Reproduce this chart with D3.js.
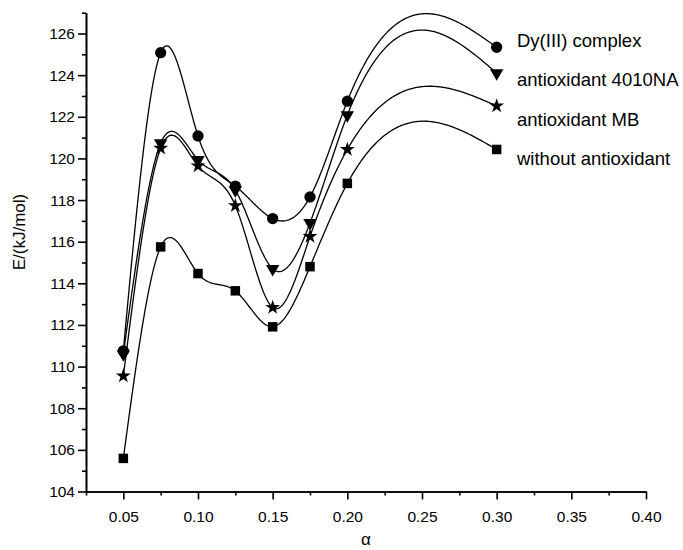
<!DOCTYPE html>
<html>
<head>
<meta charset="utf-8">
<script src="https://cdn.jsdelivr.net/npm/d3@7"></script>
<style>
  html, body { margin: 0; padding: 0; background: #fff; }
  svg { display: block; font-family: "Liberation Sans", Arial, sans-serif; }
</style>
</head>
<body>
<svg id="chart" width="683" height="550"></svg>
<script>
// ---- data ----
const alpha = [0.05, 0.075, 0.10, 0.125, 0.15, 0.175, 0.20, 0.30];
const dyComplex     = [110.76, 125.08, 121.08, 118.67, 117.11, 118.15, 122.75, 125.34];
const antiox4010NA  = [110.60, 120.73, 119.93, 118.48, 114.70, 116.90, 122.08, 124.10];
const antioxMB      = [109.55, 120.49, 119.64, 117.73, 112.84, 116.25, 120.43, 122.52];
const withoutAntiox = [105.59, 115.75, 114.47, 113.64, 111.91, 114.80, 118.80, 120.43];
const seriesNames = ["Dy(III) complex", "antioxidant 4010NA", "antioxidant MB", "without antioxidant"];
const xTickValues = [0.05, 0.10, 0.15, 0.20, 0.25, 0.30, 0.35, 0.40];
const xMinorTicks = [0.025, 0.075, 0.125, 0.175, 0.225, 0.275, 0.325, 0.375];
const yTickValues = [104, 106, 108, 110, 112, 114, 116, 118, 120, 122, 124, 126];
const yMinorTicks = [105, 107, 109, 111, 113, 115, 117, 119, 121, 123, 125, 127];

const seriesValues = [dyComplex, antiox4010NA, antioxMB, withoutAntiox];
const symbols = [d3.symbolCircle, d3.symbolTriangle, d3.symbolStar, d3.symbolSquare];
const symSizes = [100, 78, 68, 90];
const symRot = [0, 180, 0, 0];

const svg = d3.select("#chart");
const x = d3.scaleLinear().domain([0.025, 0.40]).range([86, 646]);
const y = d3.scaleLinear().domain([104, 127]).range([491.5, 12.7]);

// natural cubic spline y(x)
function naturalSpline(xs, ys) {
  const n = xs.length;
  const h = [];
  for (let i = 0; i < n - 1; i++) h.push(xs[i + 1] - xs[i]);
  const a = new Array(n).fill(0), b = new Array(n).fill(1), c = new Array(n).fill(0), d = new Array(n).fill(0);
  for (let i = 1; i < n - 1; i++) {
    a[i] = h[i - 1];
    b[i] = 2 * (h[i - 1] + h[i]);
    c[i] = h[i];
    d[i] = 6 * ((ys[i + 1] - ys[i]) / h[i] - (ys[i] - ys[i - 1]) / h[i - 1]);
  }
  const cp = new Array(n).fill(0), dp = new Array(n).fill(0);
  cp[0] = c[0] / b[0]; dp[0] = d[0] / b[0];
  for (let i = 1; i < n; i++) {
    const m = b[i] - a[i] * cp[i - 1];
    cp[i] = c[i] / m;
    dp[i] = (d[i] - a[i] * dp[i - 1]) / m;
  }
  const M = new Array(n).fill(0);
  M[n - 1] = dp[n - 1];
  for (let i = n - 2; i >= 0; i--) M[i] = dp[i] - cp[i] * M[i + 1];
  return function (t) {
    let i = 0;
    while (i < n - 2 && t > xs[i + 1]) i++;
    const hi = h[i], A = xs[i + 1] - t, B = t - xs[i];
    return M[i] * A * A * A / (6 * hi) + M[i + 1] * B * B * B / (6 * hi)
      + (ys[i] / hi - M[i] * hi / 6) * A + (ys[i + 1] / hi - M[i + 1] * hi / 6) * B;
  };
}

// axes
const axisG = svg.append("g");
axisG.append("g").attr("transform", `translate(0,${y(104)})`)
  .call(d3.axisBottom(x).tickValues(xTickValues).tickSize(8).tickSizeOuter(0).tickPadding(11).tickFormat(d3.format(".2f")));
axisG.append("g").attr("transform", `translate(0,${y(104)})`)
  .call(d3.axisBottom(x).tickValues(xMinorTicks).tickSize(4).tickSizeOuter(0).tickFormat(""));
axisG.append("g").attr("transform", `translate(${x(0.025)},0)`)
  .call(d3.axisLeft(y).tickValues(yTickValues).tickSize(8).tickSizeOuter(0).tickPadding(3).tickFormat(d3.format("d")));
axisG.append("g").attr("transform", `translate(${x(0.025)},0)`)
  .call(d3.axisLeft(y).tickValues(yMinorTicks).tickSize(4).tickSizeOuter(0).tickFormat(""));
axisG.selectAll(".domain, .tick line").attr("stroke", "#000").attr("stroke-width", 1.6);
axisG.selectAll(".tick text").attr("fill", "#000").style("font-size", "15.5px");

// axis titles
svg.append("text").attr("x", (x(0.025) + x(0.40)) / 2).attr("y", 545)
  .attr("text-anchor", "middle").style("font-size", "17px").text("α");
svg.append("text").attr("transform", `translate(25,232) rotate(-90)`)
  .attr("text-anchor", "middle").style("font-size", "17px").text("E/(kJ/mol)");

// curves
const line = d3.line().x(d => x(d[0])).y(d => y(d[1]));
const plot = svg.append("g");
seriesValues.forEach((vals) => {
  const f = naturalSpline(alpha, vals);
  const pts = d3.range(0, 401).map(k => {
    const t = alpha[0] + (alpha[alpha.length - 1] - alpha[0]) * k / 400;
    return [t, f(t)];
  });
  plot.append("path").datum(pts).attr("d", line)
    .attr("fill", "none").attr("stroke", "#000").attr("stroke-width", 1.3);
});
seriesValues.forEach((vals, si) => {
  plot.selectAll(null).data(vals).enter().append("path")
    .attr("d", d3.symbol().type(symbols[si]).size(symSizes[si]))
    .attr("transform", (d, i) => `translate(${x(alpha[i])},${y(d)}) rotate(${symRot[si]})`)
    .attr("fill", "#000");
});

// labels
const labelY = [41, 80, 120, 159];
svg.append("g").selectAll("text").data(seriesNames).enter().append("text")
  .attr("x", 517).attr("y", (d, i) => labelY[i]).attr("dy", "0.35em")
  .style("font-size", "18.5px").attr("fill", "#000").text(d => d);
</script>
</body>
</html>
